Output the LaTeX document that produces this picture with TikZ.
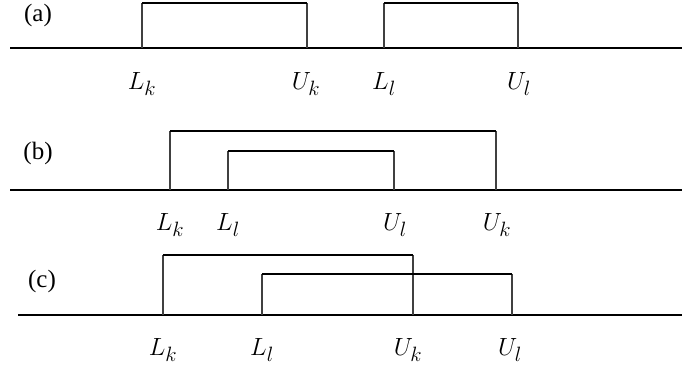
\documentclass[tikz,border=0pt]{standalone}
\usepackage{fontspec}
\setmainfont{Liberation Serif}
\newfontfamily\tagfont{Liberation Serif}
\begin{document}
\begin{tikzpicture}[x=1pt,y=-1pt,
  axis/.style={line width=2pt,black},
  topline/.style={line width=1.8pt,black},
  side/.style={line width=1.3pt,black!75},
  tag/.style={font=\tagfont\fontsize{25}{28}\selectfont,inner sep=0pt},
  bound/.style={font=\fontsize{29}{32}\selectfont,inner sep=0pt}]
\useasboundingbox (0,0) rectangle (682,371);
% ---------- (a)
\node[tag] (ta) at (38,15) {(a)};
\coordinate (a0) at (10,48);
\coordinate (a1) at (682,48);
\draw[axis] (a0) -- (a1);
\coordinate (aLk) at (142,48); \coordinate (aUk) at (307,48);
\coordinate (aLl) at (384,48); \coordinate (aUl) at (518,48);
\coordinate (aLkt) at (142,3); \coordinate (aUkt) at (307,3);
\coordinate (aLlt) at (384,3); \coordinate (aUlt) at (518,3);
\draw[side] (aLk) -- (aLkt); \draw[side] (aUk) -- (aUkt);
\draw[topline] (aLkt) -- (aUkt);
\draw[side] (aLl) -- (aLlt); \draw[side] (aUl) -- (aUlt);
\draw[topline] (aLlt) -- (aUlt);
\node[bound] (laLk) at (142,84) {$L_k$};
\node[bound] (laUk) at (306,84) {$U_k$};
\node[bound] (laLl) at (384,84) {$L_l$};
\node[bound] (laUl) at (519,84) {$U_l$};
% ---------- (b)
\node[tag] (tb) at (38,153) {(b)};
\coordinate (b0) at (10,190);
\coordinate (b1) at (682,190);
\draw[axis] (b0) -- (b1);
\coordinate (bLk) at (170,190); \coordinate (bUk) at (496,190);
\coordinate (bLl) at (228,190); \coordinate (bUl) at (394,190);
\coordinate (bLkt) at (170,131); \coordinate (bUkt) at (496,131);
\coordinate (bLlt) at (228,151); \coordinate (bUlt) at (394,151);
\draw[side] (bLk) -- (bLkt); \draw[side] (bUk) -- (bUkt);
\draw[topline] (bLkt) -- (bUkt);
\draw[side] (bLl) -- (bLlt); \draw[side] (bUl) -- (bUlt);
\draw[topline] (bLlt) -- (bUlt);
\node[bound] (lbLk) at (170,225) {$L_k$};
\node[bound] (lbLl) at (228,225) {$L_l$};
\node[bound] (lbUl) at (395,225) {$U_l$};
\node[bound] (lbUk) at (497,225) {$U_k$};
% ---------- (c)
\node[tag] (tc) at (42,281) {(c)};
\coordinate (c0) at (18,315);
\coordinate (c1) at (682,315);
\draw[axis] (c0) -- (c1);
\coordinate (cLk) at (163,315); \coordinate (cUk) at (413,315);
\coordinate (cLl) at (262,315); \coordinate (cUl) at (512,315);
\coordinate (cLkt) at (163,255); \coordinate (cUkt) at (413,255);
\coordinate (cLlt) at (262,274); \coordinate (cUlt) at (512,274);
\draw[side] (cLk) -- (cLkt); \draw[side] (cUk) -- (cUkt);
\draw[topline] (cLkt) -- (cUkt);
\draw[side] (cLl) -- (cLlt); \draw[side] (cUl) -- (cUlt);
\draw[topline] (cLlt) -- (cUlt);
\node[bound] (lcLk) at (163,350) {$L_k$};
\node[bound] (lcLl) at (262,350) {$L_l$};
\node[bound] (lcUk) at (408,350) {$U_k$};
\node[bound] (lcUl) at (510,350) {$U_l$};
\end{tikzpicture}
\end{document}
